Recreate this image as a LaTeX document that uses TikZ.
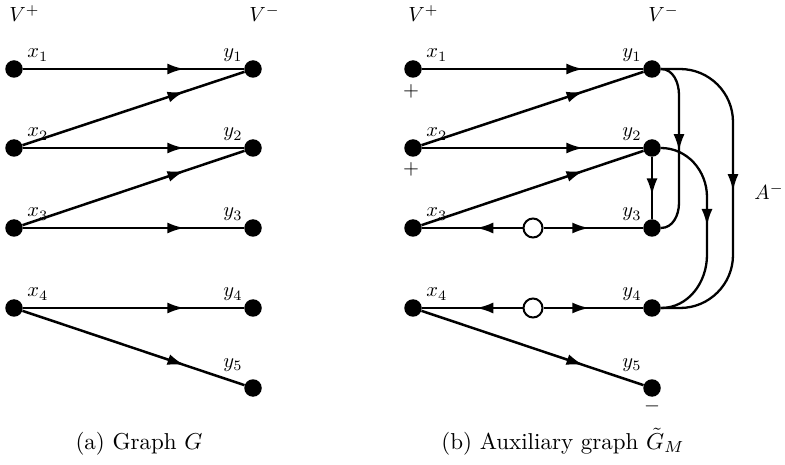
\documentclass[tikz,border=0pt]{standalone}
\usetikzlibrary{arrows.meta,decorations.markings,calc}
\tikzset{
  vtx/.style={circle,fill=black,minimum size=17.5pt,inner sep=0pt},
  lab/.style={scale=2.05,inner sep=0pt},
  captxt/.style={scale=2.3,inner sep=0pt},
  hole/.style={circle,draw=black,line width=2pt,fill=white,minimum size=19pt,inner sep=0pt},
  arcline/.style={line width=2.3pt},
  marked/.style={line width=2.5pt,postaction={decorate},
    decoration={markings,mark=at position #1 with {\arrow{Latex[length=17pt,width=11pt]}}}},
  marked/.default=0.73,
}
\begin{document}
\begin{tikzpicture}[x=1pt,y=-1pt]
\useasboundingbox (0,0) rectangle (785,465);
% ---------- (a) ----------
\node[lab,anchor=base west] (vpa) at (9,22) {$V^+$};
\node[lab,anchor=base west] (vma) at (249,22) {$V^-$};
\foreach \i/\yy in {1/69,2/148,3/228,4/308}{
  \node[vtx] (ax\i) at (14,\yy) {};
  \node[lab,anchor=base west] (axl\i) at (27,\yy-11) {$x_{\i}$};
}
\foreach \i/\yy/\dy in {1/69/11,2/148/11,3/228/11,4/308/11,5/388/21}{
  \node[vtx] (ay\i) at (253,\yy) {};
  \node[lab,anchor=base east] (ayl\i) at (243,\yy-\dy) {$y_{\i}$};
}
\draw[marked] (ax1) -- (ay1);
\draw[marked] (ax2) -- (ay1);
\draw[marked] (ax2) -- (ay2);
\draw[marked] (ax3) -- (ay2);
\draw[marked] (ax3) -- (ay3);
\draw[marked] (ax4) -- (ay4);
\draw[marked] (ax4) -- (ay5);
\node[captxt,anchor=base] (capa) at (139,449) {(a) Graph $G$};
% ---------- (b) ----------
\node[lab,anchor=base west] (vpb) at (408,22) {$V^+$};
\node[lab,anchor=base west] (vmb) at (648,22) {$V^-$};
\foreach \i/\yy in {1/69,2/148,3/228,4/308}{
  \node[vtx] (bx\i) at (413,\yy) {};
  \node[lab,anchor=base west] (bxl\i) at (426,\yy-11) {$x_{\i}$};
}
\foreach \i/\yy/\dy in {1/69/11,2/148/11,3/228/11,4/308/11,5/388/21}{
  \node[vtx] (by\i) at (652,\yy) {};
  \node[lab,anchor=base east] (byl\i) at (642,\yy-\dy) {$y_{\i}$};
}
\node[lab] (p1) at (411,91) {$+$};
\node[lab] (p2) at (411,169) {$+$};
\node[lab,text height=2pt,text depth=0pt] (m5) at (652,409) {$-$};
\draw[marked] (bx1) -- (by1);
\draw[marked] (bx2) -- (by1);
\draw[marked] (bx2) -- (by2);
\draw[marked] (bx3) -- (by2);
\draw[marked] (bx4) -- (by5);
\node[hole] (c3) at (533,228) {};
\node[hole] (c4) at (533,308) {};
\draw[marked=0.46] (c3) -- (bx3);
\draw[marked=0.46] (c3) -- (by3);
\draw[marked=0.46] (c4) -- (bx4);
\draw[marked=0.46] (c4) -- (by4);
\draw[marked=0.62] (by2) -- (by3);
% A^- arcs
\coordinate (a13) at (679,95);
\coordinate (b13) at (679,203);
\draw[arcline] (by1) to[out=0,in=90] (a13) -- (b13) to[out=-90,in=0] (by3);
\draw[marked=0.52] (a13) -- (b13);
\coordinate (a24) at (707,197);
\coordinate (b24) at (707,255);
\draw[arcline] (by2) to[out=0,in=90] (a24) -- (b24) to[out=-90,in=0] (by4);
\draw[marked=0.5] (a24) -- (b24);
\coordinate (c14) at (733,69);
\coordinate (d14) at (733,308);
\draw[arcline,rounded corners=53pt] (by1.east) -- (c14) -- (d14) -- (by4.east);
\coordinate (e14) at (733,122);
\coordinate (f14) at (733,255);
\draw[marked=0.52] (e14) -- (f14);
\node[lab,anchor=base west] (aminus) at (754,200) {$A^-$};
\node[captxt,anchor=base] (capb) at (563,449) {(b) Auxiliary graph $\tilde{G}_M$};
\end{tikzpicture}
\end{document}
